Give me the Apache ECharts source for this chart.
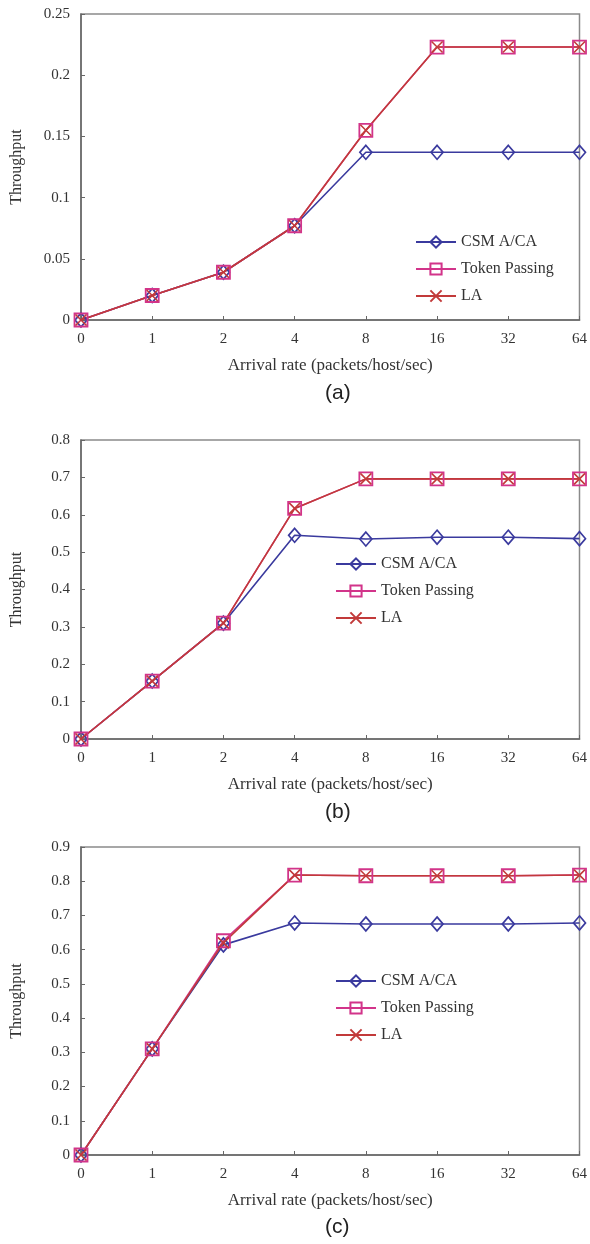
<!DOCTYPE html>
<html>
<head>
<meta charset="utf-8">
<script src="https://cdn.jsdelivr.net/npm/echarts@6/dist/echarts.min.js"></script>
<style>
html,body{margin:0;padding:0;background:#fff;}
#chart{width:590px;height:1244px;}
</style>
</head>
<body>
<div id="chart"></div>
<script>
const categories = ['0','1','2','4','8','16','32','64'];
const seriesNames = ['CSMA/CA','Token Passing','LA'];
const legendLabels = ['CSM A/CA','Token Passing','LA'];

const csmaA  = [0, 0.02, 0.039, 0.077, 0.137, 0.137, 0.137, 0.137];
const tokenA = [0, 0.02, 0.039, 0.077, 0.155, 0.223, 0.223, 0.223];
const laA    = [0, 0.02, 0.039, 0.077, 0.155, 0.223, 0.223, 0.223];

const csmaB  = [0, 0.155, 0.31, 0.545, 0.535, 0.54, 0.54, 0.536];
const tokenB = [0, 0.155, 0.31, 0.617, 0.696, 0.696, 0.696, 0.696];
const laB    = [0, 0.155, 0.31, 0.617, 0.696, 0.696, 0.696, 0.696];

const csmaC  = [0, 0.31, 0.614, 0.678, 0.675, 0.675, 0.675, 0.678];
const tokenC = [0, 0.31, 0.626, 0.818, 0.816, 0.816, 0.816, 0.818];
const laC    = [0, 0.31, 0.62, 0.818, 0.816, 0.816, 0.816, 0.818];

const yMax = [0.25, 0.8, 0.9];
const yInterval = [0.05, 0.1, 0.1];
const panelLabels = ['(a)','(b)','(c)'];
const xAxisName = 'Arrival rate (packets/host/sec)';
const yAxisName = 'Throughput';

const BLUE = '#3a3a9e', PINK = '#d2348a', RED = '#c23a3a';
const SERIF = '"Liberation Serif", "DejaVu Serif", serif';

const grids = [
  {left: 81, top: 14, width: 499, height: 306},
  {left: 81, top: 440, width: 499, height: 299},
  {left: 81, top: 847, width: 499, height: 308}
];
const legendPos = [
  {left: 410, top: 229},
  {left: 330, top: 551},
  {left: 330, top: 968}
];
const subTop = [378, 797, 1212];
const allData = [[csmaA, tokenA, laA],[csmaB, tokenB, laB],[csmaC, tokenC, laC]];

const xPath = 'path://M0,0L10,10M10,0L0,10';

const option = {
  animation: false,
  backgroundColor: '#fff',
  grid: grids.map(g => Object.assign({show: true, borderColor: '#8a8a8a', borderWidth: 1.5, backgroundColor: 'transparent'}, g)),
  xAxis: grids.map((g, i) => ({
    type: 'category', gridIndex: i, data: categories, boundaryGap: false,
    name: xAxisName, nameLocation: 'middle', nameGap: 37,
    nameTextStyle: {fontFamily: SERIF, fontSize: 17, color: '#333'},
    axisLine: {lineStyle: {color: '#666', width: 1.5}},
    axisTick: {inside: true, length: 4, alignWithLabel: true, lineStyle: {color: '#666'}},
    axisLabel: {fontFamily: SERIF, fontSize: 15, color: '#333', margin: 12},
    splitLine: {show: false}
  })),
  yAxis: grids.map((g, i) => ({
    type: 'value', gridIndex: i, min: 0, max: yMax[i], interval: yInterval[i],
    name: yAxisName, nameLocation: 'middle', nameGap: 56, nameRotate: 90,
    nameTextStyle: {fontFamily: SERIF, fontSize: 16, color: '#333'},
    axisLine: {show: true, lineStyle: {color: '#666', width: 1.5}},
    axisTick: {show: true, inside: true, length: 4, lineStyle: {color: '#666'}},
    axisLabel: {fontFamily: SERIF, fontSize: 15, color: '#333', margin: 11},
    splitLine: {show: false}
  })),
  legend: legendPos.map(p => ({
    left: p.left, top: p.top, orient: 'vertical', itemGap: 11,
    itemWidth: 40, itemHeight: 14,
    data: seriesNames,
    formatter: name => legendLabels[seriesNames.indexOf(name)],
    textStyle: {fontFamily: SERIF, fontSize: 16, color: '#333'},
    selectedMode: false
  })),
  title: panelLabels.map((t, i) => ({
    text: t, left: 320, top: subTop[i],
    textStyle: {fontFamily: '"Liberation Sans", Arial, sans-serif', fontSize: 21, fontWeight: 'normal', color: '#222'}
  })),
  series: []
};

allData.forEach((set, i) => {
  option.series.push({
    name: seriesNames[0], type: 'line', xAxisIndex: i, yAxisIndex: i, data: set[0],
    symbol: 'diamond', symbolSize: [12, 14],
    lineStyle: {color: BLUE, width: 1.6},
    itemStyle: {color: 'rgba(255,255,255,0)', borderColor: BLUE, borderWidth: 1.7}
  });
  option.series.push({
    name: seriesNames[1], type: 'line', xAxisIndex: i, yAxisIndex: i, data: set[1],
    symbol: 'rect', symbolSize: 13,
    lineStyle: {color: PINK, width: 1.6},
    itemStyle: {color: 'rgba(255,255,255,0)', borderColor: PINK, borderWidth: 1.8}
  });
  option.series.push({
    name: seriesNames[2], type: 'line', xAxisIndex: i, yAxisIndex: i, data: set[2],
    symbol: xPath, symbolSize: 11,
    lineStyle: {color: RED, width: 1.6},
    itemStyle: {color: 'rgba(255,255,255,0)', borderColor: RED, borderWidth: 1.6}
  });
});

const chart = echarts.init(document.getElementById('chart'), null, {renderer: 'canvas'});
chart.setOption(option);
</script>
</body>
</html>
